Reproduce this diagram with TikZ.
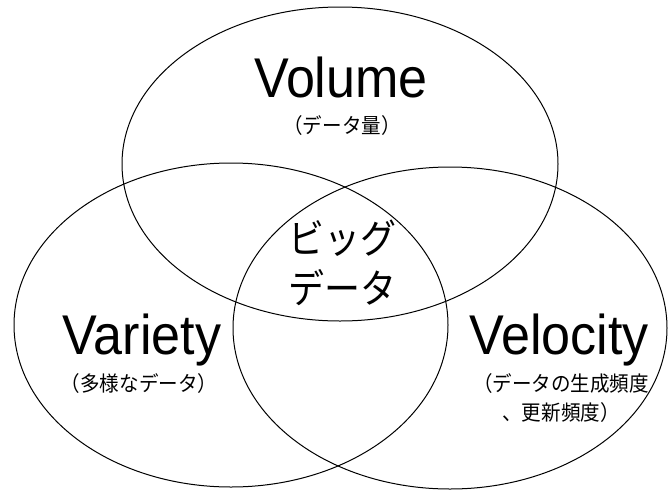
\documentclass[tikz,border=0pt]{standalone}
\usepackage{fontspec}
\setmainfont{Liberation Sans}
\newfontfamily\jp{Noto Sans CJK JP}
\usetikzlibrary{shapes.geometric}
\tikzset{
  circ/.style={ellipse, draw=black, line width=1pt, inner sep=0pt},
  big/.style={font=\fontsize{56}{56}\selectfont, inner sep=0pt, anchor=base, xscale=0.93},
  sub/.style={font=\jp\fontsize{21}{29}\selectfont, inner sep=0pt, align=center, xscale=0.93},
  core/.style={font=\jp\fontsize{40}{40}\selectfont, inner sep=0pt, xscale=0.9},
}
\begin{document}
\begin{tikzpicture}[x=1pt,y=-1pt]
\useasboundingbox (0,0) rectangle (672,491);
\node[circ, minimum width=436pt, minimum height=314pt] (vol) at (340,164) {};
\node[circ, minimum width=434pt, minimum height=324pt] (var) at (231,325) {};
\node[circ, minimum width=434pt, minimum height=322pt] (vel) at (450,328) {};
\node[big] (tvol) at (341,97) {Volume};
\node[sub] (svol) at (342,126) {（データ量）};
\node[big] (tvar) at (142,354) {Variety};
\node[sub] (svar) at (139,384) {（多様なデータ）};
\node[big] (tvel) at (559,354) {Velocity};
\node[sub] (svel) at (561,398) {（データの生成頻度\\、更新頻度）};
\node[core] (c1) at (342,238) {ビッグ};
\node[core] (c2) at (342,288) {データ};
\end{tikzpicture}
\end{document}
